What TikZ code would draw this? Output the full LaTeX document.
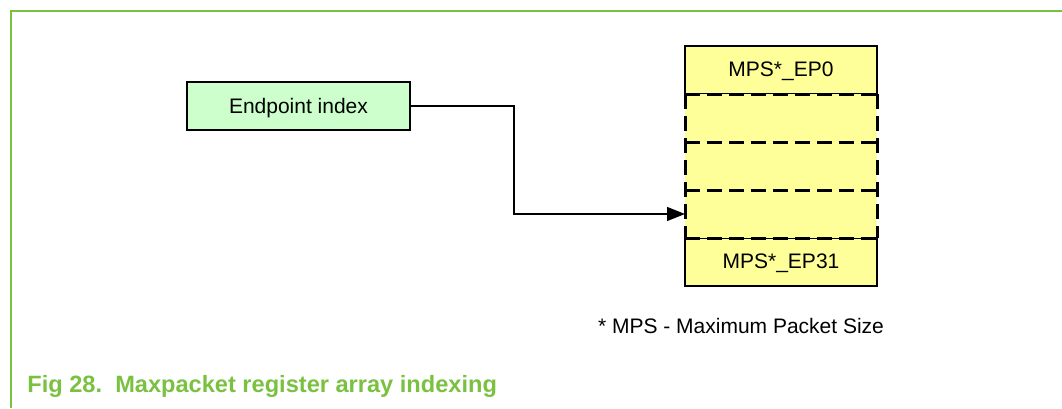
\documentclass[tikz,border=0pt]{standalone}
\usepackage{fontspec}
\setmainfont{Liberation Sans}
\usetikzlibrary{arrows.meta}
\definecolor{nxpgreen}{RGB}{122,193,66}
\definecolor{regyellow}{RGB}{255,255,153}
\definecolor{idxgreen}{RGB}{204,255,204}
\tikzset{
	px/.style={x=0.5pt, y=-0.5pt},
	txt/.style={font=\fontsize{10.5}{12}\selectfont},
	idxbox/.style={txt, draw, line width=0.7pt, fill=idxgreen, inner sep=0pt, outer sep=0pt, minimum width=111.5pt, minimum height=24pt, text depth=0.5pt},
	regbox/.style={txt, draw, line width=0.7pt, fill=regyellow, inner sep=0pt, outer sep=0pt, minimum width=96pt, minimum height=24pt, text depth=0.5pt},
	regslot/.style={regbox, draw=none},
	dashline/.style={line width=1.5pt, dash pattern=on 7.5pt off 3.5pt},
	wire/.style={line width=0.7pt, -{Triangle[length=9pt, width=7pt]}},
	frame/.style={draw=nxpgreen, line width=1pt}
}

\begin{document}
\begin{tikzpicture}[px]
	\useasboundingbox (0, 0) rectangle (1062, 408);
	% Frame and caption:
	\draw[frame] (1062, 10.5) -| (10.5, 408);
	\node[anchor=west, inner sep=0pt, text=nxpgreen, font=\fontsize{11.8}{14}\bfseries\selectfont] (cap) at (27, 386) {Fig 28.\ \ Maxpacket register array indexing};
	% Register array:
	\node[regbox] (r0) at (781, 70) {MPS*\_EP0};
	\node[regbox] (r4) at (781, 262) {MPS*\_EP31};
	\node[regslot] (r1) at (781, 118) {};
	\node[regslot] (r2) at (781, 166) {};
	\node[regslot] (r3) at (781, 214) {};
	\foreach \r in {r1, r2, r3}
		\draw[dashline] (\r.north west) -- (\r.north east);
	\draw[dashline] (r3.south west) -- (r3.south east);
	\draw[dashline] (r1.north west) -- (r3.south west);
	\draw[dashline] (r1.north east) -- (r3.south east);
	\node[txt] (note) at (741, 326) {* MPS - Maximum Packet Size};
	% Index and wire:
	\node[idxbox] (ep) at (298.5, 106) {Endpoint index};
	\draw[wire] (ep.east) -- ++(104, 0) |- (r3.west);
\end{tikzpicture}
\end{document}
